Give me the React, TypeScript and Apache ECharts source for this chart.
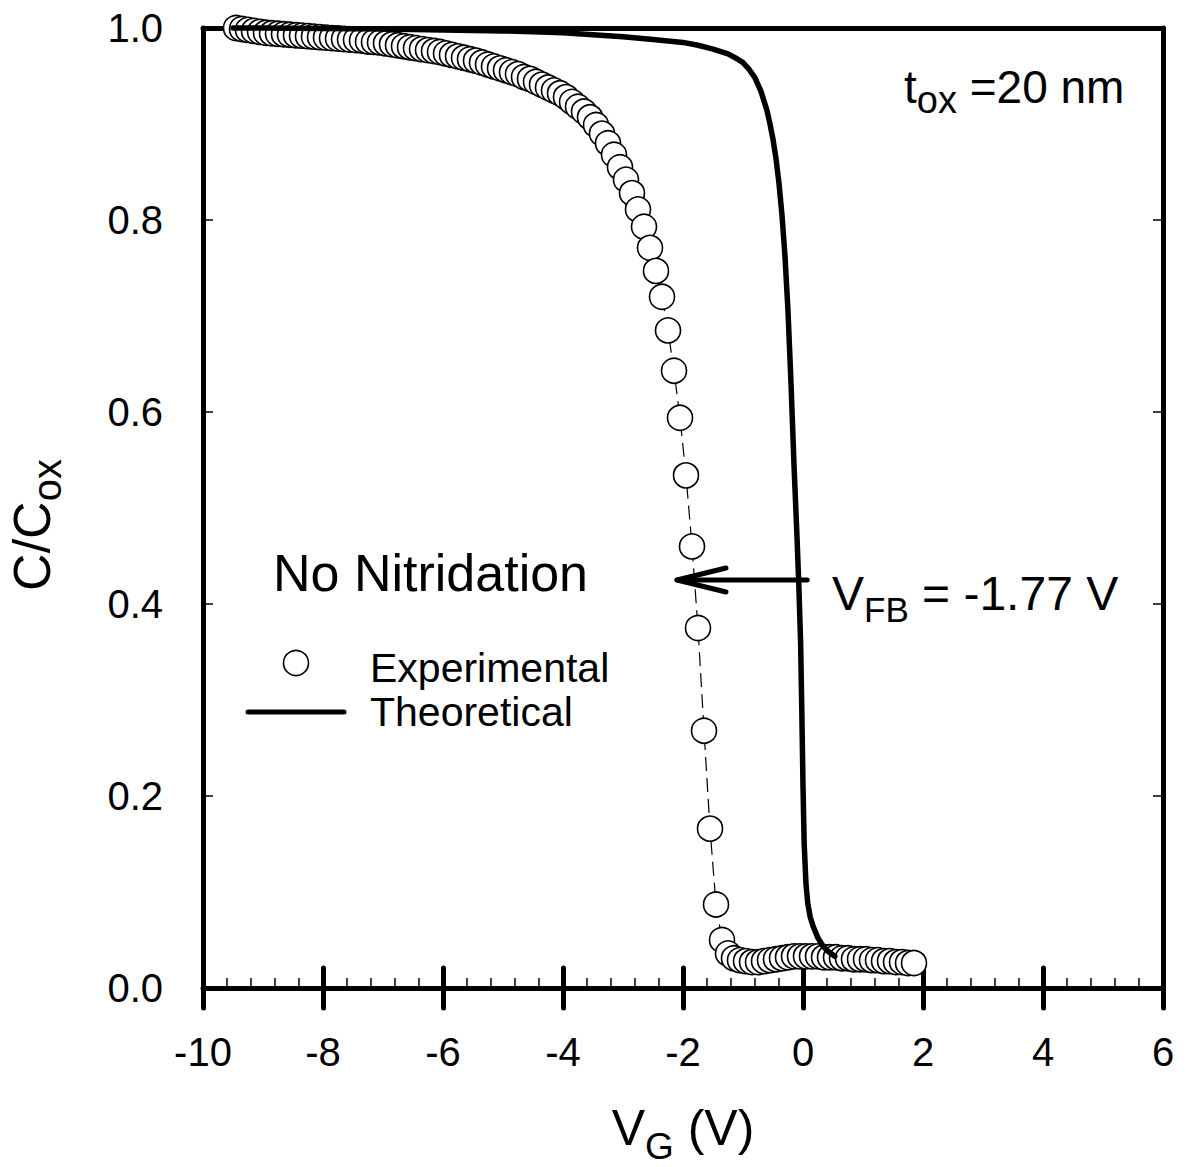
import React, { useEffect, useRef } from "react";
import * as echarts from "echarts";

// Experimental C/Cox vs gate voltage (V)
const expV = [
  -9.45, -9.35, -9.25, -9.15, -9.05, -8.95, -8.85, -8.75, -8.65, -8.55,
  -8.45, -8.35, -8.25, -8.15, -8.05, -7.95, -7.85, -7.75, -7.65, -7.55,
  -7.45, -7.35, -7.25, -7.15, -7.05, -6.95, -6.85, -6.75, -6.65, -6.55,
  -6.45, -6.35, -6.25, -6.15, -6.05, -5.95, -5.85, -5.75, -5.65, -5.55,
  -5.45, -5.35, -5.25, -5.15, -5.05, -4.95, -4.85, -4.75, -4.65, -4.55,
  -4.45, -4.35, -4.25, -4.15, -4.05, -3.95, -3.85, -3.75, -3.65, -3.55,
  -3.45, -3.35, -3.25, -3.15, -3.05, -2.95, -2.85, -2.75, -2.65, -2.55,
  -2.45, -2.35, -2.25, -2.15, -2.05, -1.95, -1.85, -1.75, -1.65, -1.55,
  -1.45, -1.35, -1.25, -1.15, -1.05, -0.95, -0.85, -0.75, -0.65, -0.55,
  -0.45, -0.35, -0.25, -0.15, -0.05, 0.05, 0.15, 0.25, 0.35, 0.45,
  0.55, 0.65, 0.75, 0.85, 0.95, 1.05, 1.15, 1.25, 1.35, 1.45,
  1.55, 1.65, 1.75, 1.85,
];
const expC = [
  1.0, 0.999, 0.998, 0.997, 0.996, 0.995, 0.9945, 0.994, 0.9935, 0.993,
  0.9925, 0.992, 0.9915, 0.991, 0.9905, 0.99, 0.9895, 0.989, 0.9885, 0.988,
  0.9875, 0.987, 0.986, 0.9855, 0.985, 0.984, 0.983, 0.982, 0.981, 0.98,
  0.979, 0.978, 0.977, 0.976, 0.975, 0.9735, 0.972, 0.9705, 0.969, 0.9675,
  0.966, 0.964, 0.962, 0.96, 0.958, 0.956, 0.954, 0.952, 0.949, 0.947,
  0.944, 0.941, 0.938, 0.935, 0.932, 0.928, 0.923, 0.918, 0.913, 0.907,
  0.899, 0.89, 0.88, 0.868, 0.855, 0.842, 0.828, 0.811, 0.793, 0.771,
  0.747, 0.72, 0.685, 0.643, 0.594, 0.534, 0.46, 0.375, 0.268, 0.166,
  0.087, 0.05, 0.036, 0.031, 0.029, 0.028, 0.027, 0.027, 0.028, 0.029,
  0.03, 0.031, 0.032, 0.033, 0.033, 0.033, 0.033, 0.033, 0.032, 0.032,
  0.032, 0.031, 0.031, 0.03, 0.03, 0.03, 0.029, 0.029, 0.028, 0.028,
  0.027, 0.027, 0.026, 0.026,
];

// Theoretical curve
const theoV = [
  -9.5, -9, -8, -7, -6, -5, -4.5, -4, -3.5, -3, -2.5, -2, -1.75, -1.5, -1.25,
  -1.1, -1.0, -0.9, -0.8, -0.7, -0.6, -0.55, -0.5, -0.45, -0.4, -0.35, -0.3,
  -0.25, -0.2, -0.15, -0.1, -0.07, -0.04, -0.02, 0.0, 0.02, 0.05, 0.08, 0.12,
  0.17, 0.25, 0.33, 0.42, 0.53,
];
const theoC = [
  1.0, 1.0, 0.9995, 0.999, 0.998, 0.997, 0.996, 0.995, 0.993, 0.991, 0.988,
  0.985, 0.982, 0.978, 0.973, 0.968, 0.964, 0.957, 0.948, 0.934, 0.914, 0.9,
  0.884, 0.864, 0.838, 0.805, 0.762, 0.705, 0.63, 0.545, 0.47, 0.42, 0.36,
  0.29, 0.21, 0.15, 0.108, 0.088, 0.074, 0.064, 0.052, 0.044, 0.038, 0.033,
];

// Axis settings
const xRange = [-10, 6];
const xStep = 2;
const yRange = [0, 1];
const yStep = 0.2;

// Annotation: flat-band arrow (data coords)
const arrowFrom = [0.07, 0.425];
const arrowTo = [-2.1, 0.425];

const FONT = "'Liberation Sans', Arial, Helvetica, sans-serif";

export default function App() {
  const ref = useRef<HTMLDivElement>(null);
  useEffect(() => {
    if (!ref.current) return;
    const chart = echarts.init(ref.current, undefined, { renderer: "svg" });
    const black = "#000";
    const option: any = {
      animation: false,
      backgroundColor: "#fff",
      grid: { left: 203, right: 23, top: 28, bottom: 179, containLabel: false },
      xAxis: [
        {
          type: "value", min: xRange[0], max: xRange[1], interval: xStep, position: "bottom",
          axisLine: { show: true, onZero: false, lineStyle: { color: black, width: 5, cap: "round" } },
          axisTick: { show: true, inside: false, length: 20, lineStyle: { color: black, width: 5, cap: "round" } },
          minorTick: { show: false },
          axisLabel: { show: true, margin: 44, fontSize: 40, color: black, fontFamily: FONT },
          splitLine: { show: false },
        },
        {
          type: "value", min: xRange[0], max: xRange[1], interval: xStep, position: "bottom",
          axisLine: { show: false },
          axisTick: { show: true, inside: true, length: 20, lineStyle: { color: black, width: 5, cap: "round" } },
          minorTick: { show: true, splitNumber: 5, length: 10, lineStyle: { color: black, width: 1.5 } },
          axisLabel: { show: false },
          splitLine: { show: false },
        },
        {
          type: "value", min: xRange[0], max: xRange[1], interval: xStep, position: "top",
          axisLine: { show: true, onZero: false, lineStyle: { color: black, width: 5, cap: "round" } },
          axisTick: { show: false },
          axisLabel: { show: false },
          splitLine: { show: false },
        },
      ],
      yAxis: [
        {
          type: "value", min: yRange[0], max: yRange[1], interval: yStep, position: "left",
          axisLine: { show: true, onZero: false, lineStyle: { color: black, width: 5, cap: "round" } },
          axisTick: { show: true, inside: true, length: 10, lineStyle: { color: black, width: 1.5 } },
          axisLabel: {
            show: true, margin: 40, fontSize: 40, color: black, fontFamily: FONT,
            formatter: (v: number) => v.toFixed(1),
          },
          splitLine: { show: false },
        },
        {
          type: "value", min: yRange[0], max: yRange[1], interval: 1, position: "left",
          axisLine: { show: false },
          axisTick: { show: true, inside: false, length: 20, lineStyle: { color: black, width: 5, cap: "round" } },
          axisLabel: { show: false },
          splitLine: { show: false },
        },
        {
          type: "value", min: yRange[0], max: yRange[1], interval: yStep, position: "right",
          axisLine: { show: true, onZero: false, lineStyle: { color: black, width: 5, cap: "round" } },
          axisTick: { show: true, inside: true, length: 10, lineStyle: { color: black, width: 1.5 } },
          axisLabel: { show: false },
          splitLine: { show: false },
        },
      ],
      series: [
        {
          type: "line", name: "Experimental", xAxisIndex: 0, yAxisIndex: 0,
          data: expV.map((v, i) => [v, expC[i]]),
          symbol: "circle", symbolSize: 25, showAllSymbol: true, clip: false,
          lineStyle: { color: black, width: 1.2, type: [14, 7] },
          itemStyle: { color: "#fff", borderColor: black, borderWidth: 1.6 },
          z: 2,
        },
        {
          type: "line", name: "Theoretical", xAxisIndex: 0, yAxisIndex: 0,
          data: theoV.map((v, i) => [v, theoC[i]]),
          symbol: "none", showSymbol: false, smooth: false, clip: false,
          lineStyle: { color: black, width: 5.5, cap: "round", join: "round" },
          z: 3,
        },
      ],
    };
    chart.setOption(option);

    const p1 = chart.convertToPixel({ xAxisIndex: 0, yAxisIndex: 0 }, arrowFrom) as number[];
    const p2 = chart.convertToPixel({ xAxisIndex: 0, yAxisIndex: 0 }, arrowTo) as number[];
    const arrowStyle = { stroke: black, lineWidth: 5, lineCap: "round" };
    chart.setOption({
      graphic: [
        { type: "line", shape: { x1: p1[0], y1: p1[1], x2: p2[0], y2: p2[1] }, style: arrowStyle, z: 10 },
        { type: "polyline", shape: { points: [[p2[0] + 49, p2[1] - 12], [p2[0], p2[1]], [p2[0] + 49, p2[1] + 12]] }, style: { ...arrowStyle, fill: null, lineJoin: "round" }, z: 10 },
        // legend
        { type: "circle", shape: { cx: 296, cy: 663, r: 12.5 }, style: { fill: "#fff", stroke: black, lineWidth: 1.6 }, z: 10 },
        { type: "line", shape: { x1: 248, y1: 712, x2: 344, y2: 712 }, style: arrowStyle, z: 10 },
        { type: "text", x: 370, y: 668, style: { text: "Experimental", font: `41px ${FONT}`, fill: black, textVerticalAlign: "middle" }, z: 10 },
        { type: "text", x: 370, y: 712, style: { text: "Theoretical", font: `41px ${FONT}`, fill: black, textVerticalAlign: "middle" }, z: 10 },
        { type: "text", x: 273, y: 573, style: { text: "No Nitridation", font: `52px ${FONT}`, fill: black, textVerticalAlign: "middle" }, z: 10 },
        {
          type: "text", x: 832, y: 569, z: 10,
          style: {
            text: "{m|V}{s|FB}{m| = -1.77 V}", textVerticalAlign: "top", fill: black,
            rich: {
              m: { fontSize: 48, fontFamily: FONT, color: black, verticalAlign: "top", lineHeight: 48 },
              s: { fontSize: 35, fontFamily: FONT, color: black, verticalAlign: "top", lineHeight: 35, padding: [23, 0, 0, 0] },
            },
          },
        },
        {
          type: "text", x: 904, y: 64, z: 10,
          style: {
            text: "{m|t}{s|ox}{m| =20 nm}", textVerticalAlign: "top", fill: black,
            rich: {
              m: { fontSize: 46, fontFamily: FONT, color: black, verticalAlign: "top", lineHeight: 46 },
              s: { fontSize: 38, fontFamily: FONT, color: black, verticalAlign: "top", lineHeight: 38, padding: [17, 0, 0, 0] },
            },
          },
        },
        // axis titles
        {
          type: "text", x: 683, y: 1103, z: 10,
          style: {
            text: "{m|V}{s|G}{m| (V)}", textAlign: "center", textVerticalAlign: "top", fill: black,
            rich: {
              m: { fontSize: 50, fontFamily: FONT, color: black, verticalAlign: "top", lineHeight: 50 },
              s: { fontSize: 37, fontFamily: FONT, color: black, verticalAlign: "top", lineHeight: 30, padding: [25, 0, 0, 0] },
            },
          },
        },
        {
          type: "text", x: 6, y: 525, rotation: Math.PI / 2, z: 10,
          style: {
            text: "{m|C/C}{s|ox}", textAlign: "center", textVerticalAlign: "top", fill: black,
            rich: {
              m: { fontSize: 52, fontFamily: FONT, color: black, verticalAlign: "top", lineHeight: 52 },
              s: { fontSize: 40, fontFamily: FONT, color: black, verticalAlign: "top", lineHeight: 34, padding: [21, 0, 0, 0] },
            },
          },
        },
      ],
    });
    return () => chart.dispose();
  }, []);
  return (
    <div
      ref={ref}
      style={{ position: "absolute", left: 0, top: 0, width: 1186, height: 1167, background: "#fff" }}
    />
  );
}
